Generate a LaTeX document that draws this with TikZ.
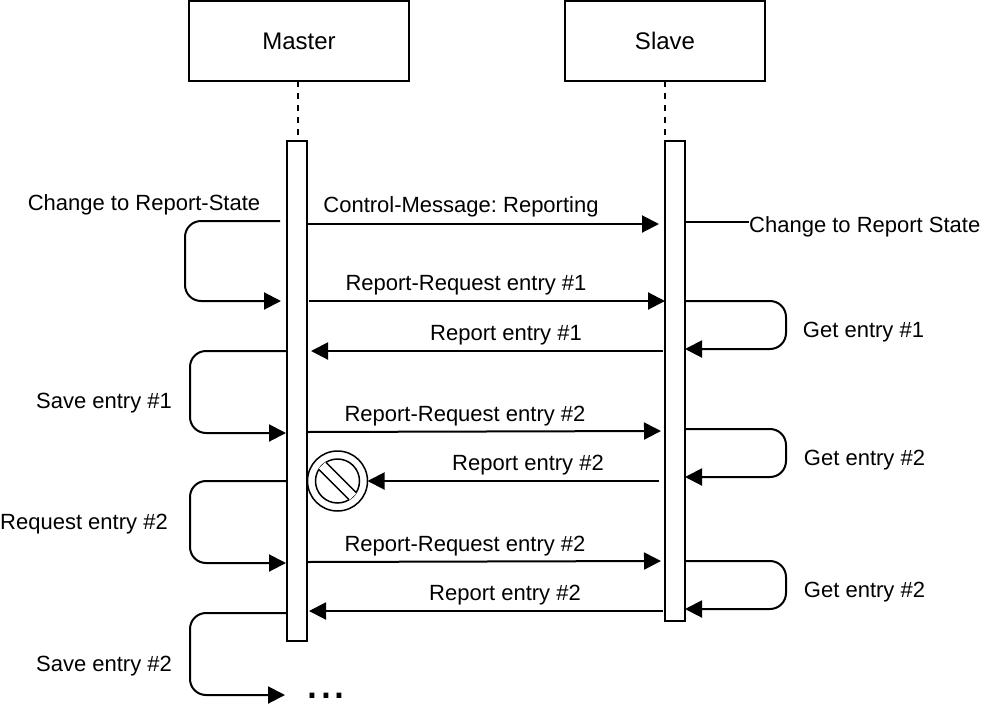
\documentclass[tikz,border=0pt]{standalone}
\usepackage{fontspec}
\setmainfont{Liberation Sans}
\usetikzlibrary{
    arrows.meta,
    positioning,
}
\frenchspacing
\tikzstyle{lane}=[draw,rectangle,line width=2pt,font=\fontsize{24}{28}\selectfont]
\tikzstyle{bar}=[draw,rectangle,fill=white,line width=2pt,minimum width=20pt,inner sep=0pt,outer sep=0pt]
\tikzstyle{msg}=[line width=2pt,-{Triangle[length=17pt,width=17pt]}]
\tikzstyle{call}=[msg,rounded corners=16pt]
\tikzstyle{life}=[line width=2pt,dash pattern=on 6pt off 6pt]
\tikzstyle{txt}=[inner sep=0pt,font=\fontsize{22}{26}\selectfont]
\tikzstyle{stopsign}=[draw,circle,fill=white,line width=1.5pt,minimum size=60pt,inner sep=0pt,outer sep=0pt]
\newcommand{\Message}[5]{%
    \coordinate (#1 from) at (#2);
    \coordinate (#1 to) at (#3);
    \draw[msg] (#1 from) -- (#1 to);
    \node[txt] (#1 label) at (#4) {#5};
}
\newcommand{\Selfcall}[6]{%
    \coordinate (#1 from) at (#2);
    \coordinate (#1 to) at (#3);
    \coordinate (#1 bend) at (#4,0);
    \draw[call] (#1 from) -- (#1 from -| #1 bend) -- (#1 to -| #1 bend) -- (#1 to);
    \node[txt] (#1 label) at (#5) {#6};
}
\begin{document}
\begin{tikzpicture}[x=1pt,y=-1pt]
    \useasboundingbox (0,0) rectangle (984,712);

    % Lanes
    \node[lane,minimum width=220pt,minimum height=80pt] (Master) at (299,41) {Master};
    \node[lane,minimum width=200pt,minimum height=80pt] (Slave) at (665,41) {Slave};
    \coordinate (master top) at (298,81);
    \coordinate (slave top) at (665,81);
    \node[bar,minimum height=500pt,anchor=north] (master bar) at (297,141) {};
    \node[bar,minimum height=480pt,anchor=north] (slave bar) at (675,141) {};
    \draw[life] (master top) -- (master top |- master bar.north);
    \draw[life] (slave top) -- (slave top |- slave bar.north);

    % Messages
    \Message{control}{307,224}{659,224}{461,207}{Control-Message: Reporting}
    \Message{request1}{309,301}{665,301}{466,285}{Report-Request entry \#1}
    \Message{report1}{663,351}{311,351}{506,335}{Report entry \#1}
    \Message{request2}{307,432}{661,431}{465,416}{Report-Request entry \#2}
    \node[stopsign] (stop) at (337.5,481) {};
    \begin{scope}[shift={(stop.center)},rotate=-45]
        \draw[line width=1.5pt] (0,0) circle (22pt);
        \fill[white] (-22,-5) rectangle (22,5);
        \draw[line width=1.5pt] (-21.4,-5) -- (21.4,-5);
        \draw[line width=1.5pt] (-21.4,5) -- (21.4,5);
    \end{scope}
    \coordinate (lost from) at (659,481);
    \draw[msg] (lost from) -- (stop.east);
    \node[txt] (lost label) at (528,465) {Report entry \#2};
    \Message{request3}{307,562}{661,561}{465,546}{Report-Request entry \#2}
    \Message{report3}{663,611}{309,611}{505,595}{Report entry \#2}

    % Master side
    \Selfcall{state}{280,221}{281,301}{185}{144,205}{Change to Report-State}
    \Selfcall{save1}{287,351}{286,433}{190}{104,403}{Save entry \#1}
    \Selfcall{again}{287,481}{286,563}{190}{84,524}{Request entry \#2}
    \Selfcall{save2}{287,613}{285,695}{190}{104,666}{Save entry \#2}
    \node[inner sep=0pt,font=\fontsize{50}{50}\selectfont,anchor=base] (more) at (326,698) {...};

    % Slave side
    \Selfcall{get1}{685,301}{685,349}{786}{863.5,332}{Get entry \#1}
    \Selfcall{get2}{685,429}{685,477}{786}{864.5,460}{Get entry \#2}
    \Selfcall{get3}{685,561}{685,609}{786}{864.5,592}{Get entry \#2}
    \node[txt,anchor=west] (slave state) at (749,227) {Change to Report State};
    \coordinate (slave state from) at (685,222);
    \draw[line width=2pt] (slave state from) -- (slave state from -| slave state.west);
\end{tikzpicture}
\end{document}
